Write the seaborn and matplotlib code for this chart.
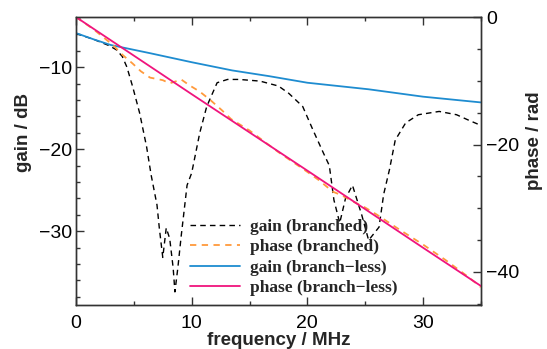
# gain and phase of branched vs branch-less line

import numpy as np
import matplotlib
matplotlib.use('Agg')
import matplotlib.pyplot as plt
import seaborn as sns

# gain (branched), dB
gain_br_f = [0, 1.5, 2.9, 3.5, 4.0, 4.4, 4.9, 5.5, 6.1, 6.5, 7.0, 7.2, 7.5, 7.8, 8.1, 8.4, 8.55,
             8.8, 9.1, 9.6, 10.0, 10.7, 11.3, 12.2, 13.1, 14.1, 15.9, 17.5, 18.4, 19.6, 20.5,
             21.4, 21.9, 22.3, 22.8, 23.3, 23.9, 24.7, 25.3, 26.2, 26.6, 27.1, 27.6, 28.5,
             29.6, 31.4, 32.9, 34.0, 35.0]
gain_br = [-5.9, -6.6, -7.4, -7.9, -8.7, -10.0, -12.4, -15.6, -19.7, -23.2, -26.8, -29.6, -33.2,
           -29.6, -30.9, -34.5, -37.4, -34.5, -30.5, -24.4, -22.9, -18.0, -14.8, -11.9, -11.5,
           -11.5, -11.7, -12.3, -13.2, -14.8, -17.7, -20.5, -22.0, -26.2, -29.0, -26.0, -24.4,
           -28.0, -31.1, -29.5, -25.5, -22.5, -18.9, -16.8, -15.8, -15.4, -15.8, -16.5, -17.1]

# phase (branched), rad
phase_br_f = [0, 1.5, 3.2, 4.0, 4.9, 5.6, 6.4, 7.5, 8.1, 9.1, 9.8, 10.7, 11.6, 12.6, 13.4, 15.0,
              17.5, 20.0, 21.0, 22.2, 23.0, 24.0, 25.0, 26.0, 27.0, 28.0, 30.0, 32.0, 34.0, 35.0]
phase_br = [0, -1.9, -4.4, -5.9, -7.3, -8.5, -9.5, -9.9, -10.4, -9.8, -10.7, -11.7, -13.0, -14.6,
            -16.0, -17.8, -21.2, -24.3, -25.6, -27.4, -28.0, -29.0, -29.9, -31.0, -32.2, -33.4,
            -35.7, -38.2, -40.9, -42.4]

# gain (branch-less), dB
gain_bl_f = [0, 1.5, 3.0, 6.4, 10.0, 13.5, 16.7, 20.0, 25.3, 30.0, 35.0]
gain_bl = [-5.85, -6.6, -7.3, -8.3, -9.4, -10.4, -11.1, -11.9, -12.7, -13.6, -14.3]

# phase (branch-less), rad
phase_bl_f = [0, 10, 20, 30, 35]
phase_bl = [0, -12.1, -24.1, -36.2, -42.2]

sns.set_style('ticks')
plt.rcParams['font.family'] = ['Liberation Sans', 'DejaVu Sans']
plt.rcParams['axes.edgecolor'] = '#333333'
plt.rcParams['xtick.color'] = '#333333'
plt.rcParams['ytick.color'] = '#333333'
plt.rcParams['xtick.labelcolor'] = 'black'
plt.rcParams['ytick.labelcolor'] = 'black'

fig = plt.figure(figsize=(5.47, 3.49), dpi=100)
ax = fig.add_axes([0.139, 0.126, 0.740, 0.825])
ax2 = ax.twinx()

sns.lineplot(x=gain_br_f, y=gain_br, ax=ax, color='black', lw=1.0, linestyle=(0, (4, 3)),
             estimator=None, sort=False)
sns.lineplot(x=gain_bl_f, y=gain_bl, ax=ax, color='#1e8cd0', lw=1.3,
             estimator=None, sort=False)
sns.lineplot(x=phase_br_f, y=phase_br, ax=ax2, color='#ff9a3c', lw=1.3, linestyle=(0, (3.5, 3)),
             estimator=None, sort=False)
sns.lineplot(x=phase_bl_f, y=phase_bl, ax=ax2, color='#f0147d', lw=1.3,
             estimator=None, sort=False)

ax.set_xlim(0, 35)
ax.set_ylim(-39.0, -3.9)
ax2.set_ylim(-45.2, 0)

ax.set_xticks([0, 10, 20, 30])
ax.set_xticks(np.arange(0, 36, 5), minor=True)
ax.set_yticks([-30, -20, -10])
ax.set_yticks(np.arange(-38, -3, 2), minor=True)
ax2.set_yticks([-40, -20, 0])
ax2.set_yticks(np.arange(-45, 1, 5), minor=True)

ax.tick_params(axis='x', which='both', direction='in', top=True, labelsize=14, pad=7)
ax.tick_params(axis='y', which='both', direction='in', right=False, labelsize=14, pad=3)
ax2.tick_params(axis='y', which='both', direction='in', labelsize=14, pad=4)
for a in (ax, ax2):
    a.tick_params(which='major', length=6, width=1)
    a.tick_params(which='minor', length=3, width=1)
    for s in a.spines.values():
        s.set_linewidth(1.0)

ax.set_xlabel('frequency / MHz', fontsize=13.5, fontweight='bold', labelpad=0)
ax.set_ylabel('gain / dB', fontsize=13.5, fontweight='bold')
ax2.set_ylabel('phase / rad', fontsize=13.5, fontweight='bold')
ax.yaxis.set_label_coords(-0.11, 0.6)
ax2.yaxis.set_label_coords(1.112, 0.57)

lines = ax.get_lines() + ax2.get_lines()
labels = ['gain (branched)', 'gain (branch\u2212less)', 'phase (branched)', 'phase (branch\u2212less)']
order = [0, 2, 1, 3]
ax2.legend([lines[i] for i in order], [labels[i] for i in order],
           loc='upper left', bbox_to_anchor=(0.281, 0.30), frameon=False,
           handlelength=2.9, handletextpad=0.57, labelspacing=0.25, borderpad=0,
           borderaxespad=0,
           prop={'family': 'Liberation Serif', 'weight': 'bold', 'size': 12.5})

plt.savefig('out.png', dpi=100)
